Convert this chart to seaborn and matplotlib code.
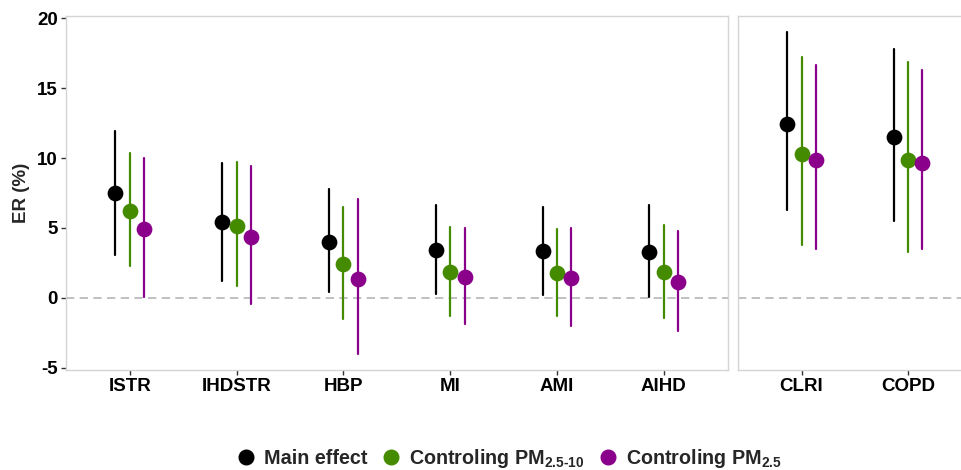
import pandas as pd
import seaborn as sns
import matplotlib.pyplot as plt
from matplotlib.lines import Line2D

# values: estimate with lower / upper bounds
categories = ["ISTR", "IHDSTR", "HBP", "MI", "AMI", "AIHD", "CLRI", "COPD"]
left_cats = categories[:6]
right_cats = categories[6:]

main_est = [7.47, 5.40, 4.01, 3.44, 3.34, 3.29, 12.46, 11.53]
main_lo = [3.06, 1.22, 0.39, 0.26, 0.21, 0.05, 6.26, 5.51]
main_hi = [11.95, 9.66, 7.76, 6.61, 6.49, 6.64, 19.00, 17.80]

pm10_est = [6.23, 5.16, 2.43, 1.82, 1.75, 1.82, 10.31, 9.83]
pm10_lo = [2.27, 0.86, -1.52, -1.29, -1.31, -1.47, 3.77, 3.27]
pm10_hi = [10.34, 9.69, 6.51, 5.04, 4.92, 5.23, 17.20, 16.87]

pm25_est = [4.90, 4.37, 1.34, 1.48, 1.43, 1.12, 9.86, 9.66]
pm25_lo = [0.07, -0.47, -4.01, -1.90, -1.98, -2.38, 3.46, 3.46]
pm25_hi = [9.98, 9.43, 7.04, 5.01, 4.97, 4.77, 16.66, 16.28]

models = ["Main effect", "PM2.5-10", "PM2.5"]
colors = ["#000000", "#458B00", "#8B008B"]
legend_labels = ["Main effect",
                 "Controling PM$_{\\mathregular{2.5\u201010}}$",
                 "Controling PM$_{\\mathregular{2.5}}$"]

# long table: three rows (lo, est, hi) per category and model
rows = []
for m, est, lo, hi in zip(models,
                          [main_est, pm10_est, pm25_est],
                          [main_lo, pm10_lo, pm25_lo],
                          [main_hi, pm10_hi, pm25_hi]):
    for c, e, l, h in zip(categories, est, lo, hi):
        for v in (l, e, h):
            rows.append({"cause": c, "model": m, "er": v})
df = pd.DataFrame(rows)

sns.set_style("white")
plt.rcParams["font.family"] = ["Liberation Sans", "DejaVu Sans"]
plt.rcParams["font.weight"] = "bold"
plt.rcParams["axes.unicode_minus"] = False
plt.rcParams["mathtext.fontset"] = "custom"
plt.rcParams["mathtext.rm"] = "Liberation Sans:bold"
plt.rcParams["mathtext.bf"] = "Liberation Sans:bold"

fig = plt.figure(figsize=(9.61, 4.70), dpi=100)
W, H = 961, 470
ax1 = fig.add_axes([65.7 / W, 100 / H, (727.8 - 65.7) / W, 354 / H])
ax2 = fig.add_axes([737.7 / W, 100 / H, (971.7 - 737.7) / W, 354 / H])

for ax, cats in [(ax1, left_cats), (ax2, right_cats)]:
    sub = df[df["cause"].isin(cats)]
    ax.axhline(0, color="#b5b5b5", lw=1.2, dashes=(5, 3.2), zorder=0)
    sns.pointplot(data=sub, x="cause", y="er", hue="model",
                  order=cats, hue_order=models, palette=colors,
                  estimator="median", errorbar=("pi", 100),
                  dodge=0.27, linestyle="none", markers="o",
                  markersize=9.3, err_kws={"linewidth": 1.6},
                  legend=False, ax=ax)
    ax.set_xlim(-0.6, len(cats) - 0.4)
    ax.set_ylim(-5.16, 20.16)
    ax.set_xlabel("")
    ax.set_ylabel("")
    for s in ax.spines.values():
        s.set_color("#d4d4d4")
        s.set_linewidth(1.0)
    ax.tick_params(axis="both", length=3.5, width=1, color="#333333",
                   labelsize=13.5, labelcolor="black", pad=2, bottom=True, left=True)

ax1.set_yticks([-5, 0, 5, 10, 15, 20])
ax1.set_ylabel("ER (%)", fontsize=13.5, fontweight="bold", labelpad=5)
ax2.set_yticks([])
ax2.tick_params(axis="y", left=False)

handles = [Line2D([], [], marker="o", linestyle="none", color=c, markersize=10.5)
           for c in colors]
fig.legend(handles, legend_labels, loc="lower center", ncol=3,
           bbox_to_anchor=(0.529, -0.038), frameon=False,
           prop={"size": 14.2, "weight": "bold"},
           handletextpad=0.3, columnspacing=0.6, handlelength=1.2)

fig.savefig("out.png", dpi=100)
